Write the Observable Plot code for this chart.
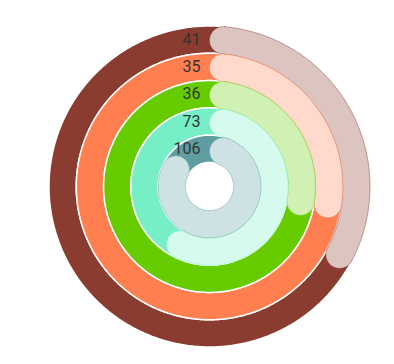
<!DOCTYPE html>
<html>
<head>
<meta charset="utf-8">
<script src="https://cdn.jsdelivr.net/npm/d3@7"></script>
<script src="https://cdn.jsdelivr.net/npm/@observablehq/plot@0.6"></script>
<style>
  html, body { margin: 0; padding: 0; background: #fff; }
  #chart svg { display: block; }
</style>
</head>
<body>
<div id="chart"></div>
<script>
// Rings listed from the outermost to the innermost
const ringLabels = ["41", "35", "36", "73", "106"];
const ringValues = [41, 35, 36, 73, 106];
const ringColors = ["#8B3C30", "#FF7F50", "#66CC00", "#76EEC6", "#5F9EA0"];
const angleDomain = [0, 120]; // value that completes a full turn

const n = ringValues.length;
const radius = d3.scaleBand().domain(d3.range(n)).range([1, 0.15]).paddingInner(0);
const angle = d3.scaleLinear().domain(angleDomain).range([0, 2 * Math.PI]);
const STEP = Math.PI / 360;

const pt = (r, t) => [r * Math.sin(t), r * Math.cos(t)];

function circle(r, reverse) {
  const pts = [];
  for (let k = 0; k <= 720; k++) {
    const t = (reverse ? -k : k) * STEP;
    pts.push(pt(r, t));
  }
  return pts;
}

function roundedArc(r0, r1, t1) {
  const rm = (r0 + r1) / 2, h = (r1 - r0) / 2;
  const a = Math.asin(Math.min(1, h / rm));
  const pts = [];
  const ta = a, tb = Math.max(a, t1 - a);
  for (let t = ta; t < tb; t += STEP) pts.push(pt(r1, t));
  pts.push(pt(r1, tb));
  const cap = (phi, s0, s1) => {
    const u = [Math.sin(phi), Math.cos(phi)], v = [Math.cos(phi), -Math.sin(phi)];
    const c = pt(rm, phi);
    const m = 60;
    for (let k = 0; k <= m; k++) {
      const s = s0 + (s1 - s0) * k / m;
      pts.push([c[0] + h * (Math.cos(s) * u[0] + Math.sin(s) * v[0]),
                c[1] + h * (Math.cos(s) * u[1] + Math.sin(s) * v[1])]);
    }
  };
  cap(tb, 0, Math.PI);
  for (let t = tb; t > ta; t -= STEP) pts.push(pt(r0, t));
  pts.push(pt(r0, ta));
  cap(ta, Math.PI, 2 * Math.PI);
  pts.push(pts[0]);
  return pts;
}

const rows = ringValues.map((v, i) => ({
  label: ringLabels[i],
  value: v,
  color: ringColors[i],
  light: d3.interpolateRgb(ringColors[i], "#ffffff")(0.7),
  r0: radius(i),
  r1: radius(i) + radius.bandwidth()
}));

const tracks = rows.map(d => ({
  type: "Feature",
  properties: d,
  geometry: { type: "Polygon", coordinates: [circle(d.r1, false), circle(d.r0, true)] }
}));

const bars = rows.map(d => ({
  type: "Feature",
  properties: d,
  geometry: { type: "Polygon", coordinates: [roundedArc(d.r0, d.r1, angle(d.value))] }
}));

const chart = Plot.plot({
  width: 394,
  height: 364,
  marginLeft: 48.5,
  marginRight: 24.5,
  marginTop: 25.5,
  marginBottom: 17.5,
  projection: {
    type: "reflect-y",
    domain: { type: "MultiPoint", coordinates: [[-1, -1], [1, 1]] },
    inset: 0
  },
  color: { type: "identity" },
  marks: [
    Plot.geo(tracks, { fill: d => d.properties.color, stroke: "#ffffff", strokeWidth: 1.5 }),
    Plot.geo(bars, {
      fill: d => d.properties.light,
      stroke: d => d.properties.color,
      strokeWidth: 0.8,
      strokeOpacity: 0.6
    }),
    Plot.text(rows, {
      x: () => 0,
      y: d => (d.r0 + d.r1) / 2,
      text: "label",
      textAnchor: "end",
      dx: -9,
      fontSize: 16,
      fontFamily: "Roboto, sans-serif",
      fill: "#333333"
    })
  ]
});

document.getElementById("chart").appendChild(chart);
</script>
</body>
</html>
